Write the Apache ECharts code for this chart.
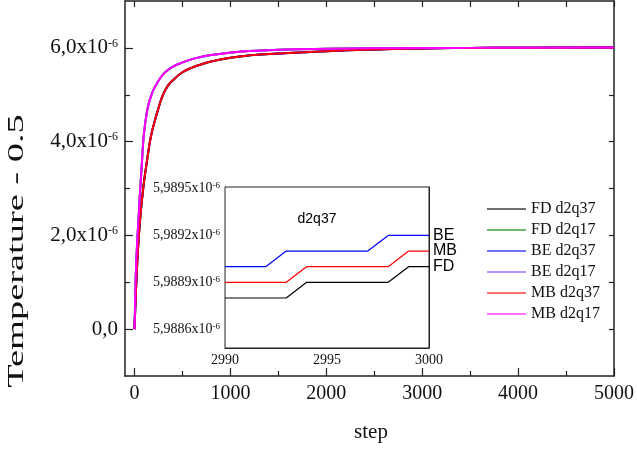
<!DOCTYPE html>
<html><head><meta charset="utf-8">
<script src="https://cdn.jsdelivr.net/npm/echarts@6/dist/echarts.min.js"></script>
<style>html,body{margin:0;padding:0;background:#fff}#c{width:637px;height:449px}</style>
</head><body><div id="c"></div>
<script>
// ---- data (temperature - 0.5, in units of 1e-6) ----
const steps = [0, 3, 6, 10, 15, 20, 31, 45, 59, 75, 90, 105, 120, 140, 160, 180, 200, 250, 300, 350, 400, 500, 600, 700, 800, 1000, 1200, 1500, 2000, 2500, 3000, 3500, 4000, 5000];
const curveD2q17 = [0, 0.35, 0.65, 1.0, 1.3, 1.55, 2.0, 2.5, 3.0, 3.5, 4.0, 4.3, 4.52, 4.75, 4.9, 5.02, 5.12, 5.3, 5.44, 5.53, 5.6, 5.69, 5.76, 5.81, 5.85, 5.9, 5.935, 5.96, 5.98, 5.99, 5.996, 6.0, 6.003, 6.007];
const curveD2q37 = [0, 0.2, 0.38, 0.6, 0.85, 1.08, 1.55, 2.0, 2.38, 2.72, 3.0, 3.25, 3.46, 3.74, 4.0, 4.2, 4.36, 4.72, 5.02, 5.2, 5.31, 5.48, 5.58, 5.65, 5.71, 5.79, 5.84, 5.88, 5.93, 5.965, 5.989, 5.997, 6.002, 6.007];
const fdD2q37 = curveD2q37, beD2q37 = curveD2q37, mbD2q37 = curveD2q37;
const fdD2q17 = curveD2q17, beD2q17 = curveD2q17, mbD2q17 = curveD2q17;

const insetSteps = [2990, 2991, 2992, 2993, 2994, 2995, 2996, 2997, 2998, 2999, 3000];
const insetBE = [5.9890, 5.9890, 5.9890, 5.9891, 5.9891, 5.9891, 5.9891, 5.9891, 5.9892, 5.9892, 5.9892];
const insetMB = [5.9889, 5.9889, 5.9889, 5.9889, 5.9890, 5.9890, 5.9890, 5.9890, 5.9890, 5.9891, 5.9891];
const insetFD = [5.9888, 5.9888, 5.9888, 5.9888, 5.9889, 5.9889, 5.9889, 5.9889, 5.9889, 5.9890, 5.9890];

const xMajor = [0, 1000, 2000, 3000, 4000, 5000];
const xMinor = [500, 1500, 2500, 3500, 4500];
const yMajor = [0, 2, 4, 6];
const yMinor = [1, 3, 5];
const insetYLabels = [5.9886, 5.9889, 5.9892, 5.9895];
const insetYTicks = [5.9886, 5.98875, 5.9889, 5.98905, 5.9892, 5.98935, 5.9895];

const names = ['FD d2q37', 'FD d2q17', 'BE d2q37', 'BE d2q17', 'MB d2q37', 'MB d2q17'];
const colors = ['#000000', '#008000', '#0000ff', '#8040ff', '#ff0000', '#ff00ff'];
const mainData = [fdD2q37, fdD2q17, beD2q37, beD2q17, mbD2q37, mbD2q17];

const serif = 'Liberation Serif';
const sans = 'Liberation Sans';
const axisCol = '#222';
const pair = (xs, ys) => xs.map((x, i) => [x, ys[i]]);

const chart = echarts.init(document.getElementById('c'), null, {renderer: 'canvas'});

const noSplit = {show: false};
const series = names.map((n, i) => ({
  name: n, type: 'line', xAxisIndex: 0, yAxisIndex: 0,
  data: pair(steps, mainData[i]), symbol: 'none', showSymbol: false, smooth: 0.5,
  lineStyle: {color: colors[i], width: 2}, itemStyle: {color: colors[i]}, z: 3 + i
}));
const insetDefs = [['FD', insetFD, '#000000'], ['MB', insetMB, '#ff0000'], ['BE', insetBE, '#0000ff']];
insetDefs.forEach(([lab, arr, col]) => {
  series.push({
    name: 'inset ' + lab, type: 'line', xAxisIndex: 4, yAxisIndex: 4,
    data: pair(insetSteps, arr), symbol: 'none',
    lineStyle: {color: col, width: 1.2}, itemStyle: {color: col},
    endLabel: {show: true, formatter: lab, fontFamily: sans, fontSize: 16, color: '#000', distance: 4},
    z: 20
  });
});

const yFmt = v => (Math.abs(v) < 1e-9 ? '0,0' : v.toFixed(1).replace('.', ',') + 'x10{sup|-6}');
const insetFmt = v => v.toFixed(4).replace('.', ',') + 'x10{sup|-6}';
const plain = v => String(Math.round(v));

chart.setOption({
  animation: false,
  backgroundColor: '#fff',
  grid: [
    {left: 125, top: 1, right: 22, bottom: 73, show: false},
    {left: 225, top: 187, width: 204, height: 161, show: true, backgroundColor: '#fff', borderColor: axisCol, borderWidth: 1, z: 10}
  ],
  legend: {
    data: names.map((n, i) => ({name: n, icon: 'rect', itemStyle: {color: colors[i], opacity: 0.75}})),
    orient: 'vertical', left: 482, top: 196,
    itemWidth: 39, itemHeight: 1.5, itemGap: 5,
    textStyle: {fontFamily: serif, fontSize: 16, color: '#111', lineHeight: 16}
  },
  xAxis: [
    {gridIndex: 0, type: 'value', min: -100, max: 5000, position: 'bottom',
     axisLine: {show: true, onZero: false, lineStyle: {color: axisCol, width: 1.5}},
     axisTick: {inside: true, length: 8, customValues: xMajor, lineStyle: {color: axisCol, width: 1.2}},
     axisLabel: {customValues: xMajor, formatter: plain, fontFamily: serif, fontSize: 20, color: '#111', margin: 8},
     splitLine: noSplit},
    {gridIndex: 0, type: 'value', min: -100, max: 5000, position: 'bottom',
     axisLine: {show: false, onZero: false},
     axisTick: {inside: true, length: 5, customValues: xMinor, lineStyle: {color: axisCol, width: 1.2}},
     axisLabel: {show: false}, splitLine: noSplit},
    {gridIndex: 0, type: 'value', min: -100, max: 5000, position: 'top',
     axisLine: {show: true, onZero: false, lineStyle: {color: axisCol, width: 1.5}},
     axisTick: {inside: true, length: 6, customValues: xMajor.concat(xMinor), lineStyle: {color: axisCol, width: 1.2}},
     axisLabel: {show: false}, splitLine: noSplit},
    {gridIndex: 0, type: 'value', min: -100, max: 5000, position: 'top', show: false},
    {gridIndex: 1, type: 'value', min: 2990, max: 3000, interval: 5, position: 'bottom',
     axisLine: {show: true, onZero: false, lineStyle: {color: axisCol, width: 1}},
     axisTick: {inside: true, length: 4, lineStyle: {color: axisCol}},
     minorTick: {show: true, splitNumber: 2, length: 3, lineStyle: {color: axisCol}},
     axisLabel: {formatter: plain, fontFamily: serif, fontSize: 14, color: '#111', margin: 5},
     splitLine: noSplit, minorSplitLine: {show: false}}
  ],
  yAxis: [
    {gridIndex: 0, type: 'value', min: -1, max: 7, position: 'left',
     axisLine: {show: true, onZero: false, lineStyle: {color: axisCol, width: 1.5}},
     axisTick: {inside: true, length: 8, customValues: yMajor, lineStyle: {color: axisCol, width: 1.2}},
     axisLabel: {customValues: yMajor, formatter: yFmt, fontFamily: serif, fontSize: 21, color: '#111', margin: 7,
       rich: {sup: {fontFamily: serif, fontSize: 12, lineHeight: 12, verticalAlign: 'top', color: '#111'}}},
     splitLine: noSplit},
    {gridIndex: 0, type: 'value', min: -1, max: 7, position: 'left',
     axisLine: {show: false, onZero: false},
     axisTick: {inside: true, length: 5, customValues: yMinor, lineStyle: {color: axisCol, width: 1.2}},
     axisLabel: {show: false}, splitLine: noSplit},
    {gridIndex: 0, type: 'value', min: -1, max: 7, position: 'right',
     axisLine: {show: true, onZero: false, lineStyle: {color: axisCol, width: 1.5}},
     axisTick: {inside: true, length: 5, customValues: yMajor.concat(yMinor), lineStyle: {color: axisCol, width: 1.2}},
     axisLabel: {show: false}, splitLine: noSplit},
    {gridIndex: 0, type: 'value', min: -1, max: 7, position: 'right', show: false},
    {gridIndex: 1, type: 'value', min: 5.98848, max: 5.98951, position: 'left',
     axisLine: {show: true, onZero: false, lineStyle: {color: axisCol, width: 1}},
     axisTick: {inside: true, length: 4, customValues: insetYTicks, lineStyle: {color: axisCol}},
     axisLabel: {customValues: insetYLabels, formatter: insetFmt, fontFamily: serif, fontSize: 14, color: '#111', margin: 5,
       rich: {sup: {fontFamily: serif, fontSize: 9, lineHeight: 9, verticalAlign: 'top', color: '#111'}}},
     splitLine: noSplit},
    {gridIndex: 1, type: 'value', min: 5.98848, max: 5.98951, position: 'right',
     axisLine: {show: true, onZero: false, lineStyle: {color: axisCol, width: 1}},
     axisTick: {inside: true, length: 4, customValues: insetYTicks, lineStyle: {color: axisCol}},
     axisLabel: {show: false}, splitLine: noSplit}
  ],
  graphic: [
    {type: 'text', x: 17, y: 251, rotation: Math.PI / 2, scaleX: 1.6,
     style: {text: 'Temperature - 0.5', font: '24px "Liberation Serif"', fill: '#111', textAlign: 'center', textVerticalAlign: 'middle'}},
    {type: 'text', x: 371, y: 432,
     style: {text: 'step', font: '21px "Liberation Serif"', fill: '#111', textAlign: 'center', textVerticalAlign: 'middle'}},
    {type: 'text', x: 317, y: 219, z: 30,
     style: {text: 'd2q37', font: '14px "Liberation Sans"', fill: '#000', textAlign: 'center', textVerticalAlign: 'middle'}}
  ],
  series: series
});
</script></body></html>
